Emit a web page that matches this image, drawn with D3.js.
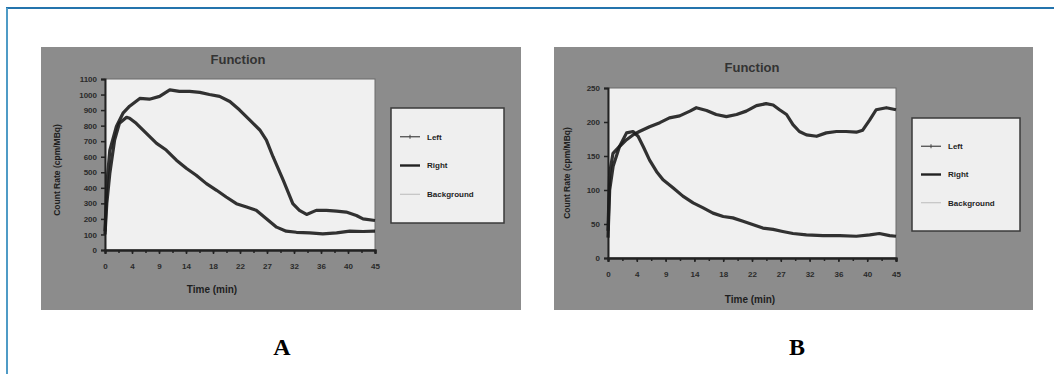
<!DOCTYPE html>
<html>
<head>
<meta charset="utf-8">
<script src="https://cdn.jsdelivr.net/npm/d3@7"></script>
<style>
  body { margin: 0; background: #fff; }
  svg { display: block; }
</style>
</head>
<body>
<svg id="chart" width="1054" height="374"></svg>
<script>
// time axis labels (every 4.5 min, rounded as printed)
const xTickLabels = ["0", "4", "9", "14", "18", "22", "27", "32", "36", "40", "45"];
const aYTicks = [0, 100, 200, 300, 400, 500, 600, 700, 800, 900, 1000, 1100];
const bYTicks = [0, 50, 100, 150, 200, 250];
const legendItems = ["Left", "Right", "Background"];

// panel A, [min, cpm/MBq]
const aLeft = [[0, 120], [0.3, 420], [0.8, 640], [1.9, 795], [3, 880], [4.1, 925], [5.8, 975],
  [7.4, 970], [9.1, 988], [10.8, 1030], [12.4, 1020], [14.1, 1020], [15.8, 1014], [17.4, 1000],
  [19.1, 988], [20.8, 955], [22.4, 902], [24.1, 837], [25.8, 772], [26.9, 707], [28, 600],
  [29.7, 449], [31.3, 298], [32.4, 255], [33.6, 229], [35.2, 255], [36.9, 255], [38.6, 250],
  [40.2, 244], [41.9, 222], [43, 200], [45, 190]];
const aRight = [[0, 100], [0.3, 300], [0.8, 492], [1.6, 707], [2.4, 815], [3.6, 854], [4.1, 848],
  [5.2, 815], [6.9, 750], [8.6, 686], [10.2, 643], [11.9, 578], [13.6, 524], [15.2, 481],
  [16.9, 427], [18.6, 384], [20.2, 341], [21.9, 298], [23.6, 276], [25.2, 255], [26.9, 201],
  [28.6, 147], [30.2, 121], [31.9, 114], [34.1, 110], [36.3, 104], [38.6, 110], [40.8, 121],
  [43, 119], [45, 121]];

// panel B
const bLeft = [[0, 40], [0.26, 125], [0.78, 154], [1.8, 164], [2.9, 174], [3.9, 181], [4.9, 186],
  [6.5, 193], [8.1, 199], [9.6, 206], [11.2, 209], [12.8, 216], [13.8, 221], [15.4, 217],
  [16.9, 211], [18.5, 208], [20.1, 211], [21.6, 216], [23.2, 224], [24.7, 227], [25.8, 225],
  [26.8, 218], [27.9, 211], [28.9, 196], [29.9, 186], [31, 181], [32.6, 179], [34.1, 184],
  [35.7, 186], [37.2, 186], [38.8, 185], [39.8, 188], [40.9, 203], [41.9, 218], [43.5, 221],
  [45, 218]];
const bRight = [[0, 30], [0.26, 100], [0.8, 135], [1.8, 164], [2.9, 184], [3.9, 186], [4.7, 179],
  [5.5, 164], [6.5, 144], [7.6, 127], [8.6, 115], [10.2, 103], [11.7, 91], [13.3, 81],
  [14.8, 74], [16.4, 66], [18, 61], [19.5, 59], [21.1, 54], [22.7, 49], [24.2, 44], [25.8, 42],
  [27.3, 39], [28.9, 36], [31, 34], [33.6, 33], [36.2, 33], [38.8, 32], [40.9, 34], [42.4, 36],
  [44, 33], [45, 32]];

const sans = "'Liberation Sans', Arial, sans-serif";
const svg = d3.select("#chart");

// page frame
svg.append("line").attr("x1", 6).attr("x2", 1054).attr("y1", 8).attr("y2", 8)
  .attr("stroke", "#2474ad").attr("stroke-width", 2);
svg.append("line").attr("x1", 7).attr("x2", 7).attr("y1", 8).attr("y2", 374)
  .attr("stroke", "#4f9bc6").attr("stroke-width", 2);

const panels = [
  { box: [41, 47, 480, 263], plot: [105, 79, 375, 250], yTicks: aYTicks, yMax: 1100,
    title: [238, 59], xLab: [212, 289], yLab: [57, 170], legend: [391, 108, 113, 115],
    series: [aLeft, aRight], caption: [282, 355], letter: "A" },
  { box: [554, 47, 479, 263], plot: [608, 88, 896, 258], yTicks: bYTicks, yMax: 250,
    title: [752, 67], xLab: [750, 299], yLab: [567, 173], legend: [912, 118, 108, 113],
    series: [bLeft, bRight], caption: [797, 355], letter: "B" }
];

panels.forEach(p => {
  const g = svg.append("g").style("font-family", sans);
  g.append("rect").attr("x", p.box[0]).attr("y", p.box[1])
    .attr("width", p.box[2]).attr("height", p.box[3]).attr("fill", "#8c8c8c");

  const [x0, y0, x1, y1] = p.plot;
  const x = d3.scaleLinear().domain([0, 45]).range([x0, x1]);
  const y = d3.scaleLinear().domain([0, p.yMax]).range([y1, y0]);

  g.append("rect").attr("x", x0).attr("y", y0).attr("width", x1 - x0).attr("height", y1 - y0)
    .attr("fill", "#f0f0f0").attr("stroke", "#6a6a6a").attr("stroke-width", 1);

  // axes
  const xAxis = d3.axisBottom(x)
    .tickValues(d3.range(0, 11).map(i => i * 4.5))
    .tickFormat((d, i) => xTickLabels[i]).tickSize(4).tickPadding(9);
  const xa = g.append("g").attr("transform", `translate(0,${y1})`).call(xAxis);
  const yAxis = d3.axisLeft(y).tickValues(p.yTicks).tickFormat(d3.format("d")).tickSize(4).tickPadding(4);
  const ya = g.append("g").attr("transform", `translate(${x0},0)`).call(yAxis);

  // minor ticks
  g.append("g").attr("transform", `translate(0,${y1})`)
    .call(d3.axisBottom(x).tickValues(d3.range(0, 20).map(i => i * 2.25 + 2.25)).tickSize(3).tickFormat(""));

  [xa, ya].forEach(a => {
    a.selectAll("text").attr("font-size", 8).attr("font-weight", "bold")
      .attr("fill", "#2a2a2a").attr("font-family", sans);
  });
  g.selectAll(".domain").attr("stroke", "#222").attr("stroke-width", 2);
  g.selectAll(".tick line").attr("stroke", "#222").attr("stroke-width", 1.5);

  // curves
  const line = d3.line().x(d => x(d[0])).y(d => y(d[1]));
  p.series.forEach(s => {
    g.append("path").datum(s).attr("d", line).attr("fill", "none")
      .attr("stroke", "#1c1c1c").attr("stroke-width", 3.2)
      .attr("stroke-linejoin", "round").attr("opacity", 0.9);
  });

  // titles
  g.append("text").attr("x", p.title[0]).attr("y", p.title[1]).attr("dy", "0.35em")
    .attr("text-anchor", "middle").attr("font-size", 13).attr("font-weight", "bold")
    .attr("fill", "#333").text("Function");
  g.append("text").attr("x", p.xLab[0]).attr("y", p.xLab[1]).attr("dy", "0.35em")
    .attr("text-anchor", "middle").attr("font-size", 10).attr("font-weight", "bold")
    .attr("fill", "#1e1e1e").text("Time (min)");
  g.append("text").attr("transform", `translate(${p.yLab[0]},${p.yLab[1]}) rotate(-90)`)
    .attr("dy", "0.35em").attr("text-anchor", "middle").attr("font-size", 8.5)
    .attr("font-weight", "bold").attr("fill", "#1e1e1e").text("Count Rate (cpm/MBq)");

  // legend
  const [lx, ly, lw, lh] = p.legend;
  g.append("rect").attr("x", lx).attr("y", ly).attr("width", lw).attr("height", lh)
    .attr("fill", "#efefef").attr("stroke", "#3a3a3a").attr("stroke-width", 1.5);
  const step = lh * 0.25;
  legendItems.forEach((name, i) => {
    const yy = ly + lh * 0.25 + i * step;
    const styles = [["#444", 1.2], ["#222", 2.4], ["#bbb", 1]][i];
    g.append("line").attr("x1", lx + 9).attr("x2", lx + 29).attr("y1", yy).attr("y2", yy)
      .attr("stroke", styles[0]).attr("stroke-width", styles[1]);
    if (i === 0) {
      g.append("line").attr("x1", lx + 19).attr("x2", lx + 19).attr("y1", yy - 2).attr("y2", yy + 2)
        .attr("stroke", "#444").attr("stroke-width", 1);
    }
    g.append("text").attr("x", lx + 36).attr("y", yy).attr("dy", "0.35em")
      .attr("font-size", 8).attr("font-weight", "bold").attr("fill", "#1e1e1e").text(name);
  });

  // caption
  svg.append("text").attr("x", p.caption[0]).attr("y", p.caption[1])
    .attr("text-anchor", "middle").style("font-family", "'Liberation Serif', 'DejaVu Serif', serif")
    .attr("font-size", 24).attr("font-weight", "bold").attr("fill", "#000").text(p.letter);
});
</script>
</body>
</html>
